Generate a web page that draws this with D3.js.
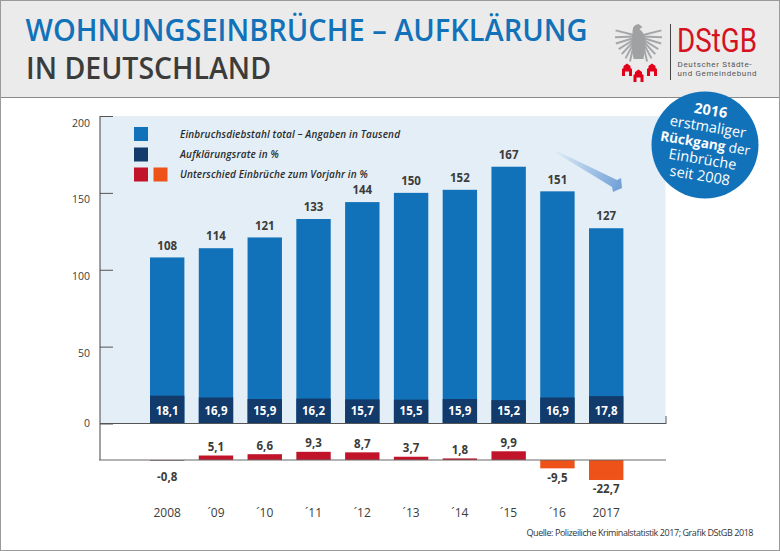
<!DOCTYPE html>
<html><head><meta charset="utf-8">
<script src="https://cdn.jsdelivr.net/npm/d3@7"></script>
<style>html,body{margin:0;padding:0;background:#fff}svg{display:block}text{font-family:"Open Sans",sans-serif}</style>
</head><body><svg id="c" width="780" height="551"></svg>
<script>
const years=["2008","´09","´10","´11","´12","´13","´14","´15","´16","2017"];
const totals=[108,114,121,133,144,150,152,167,151,127];
const rates=[18.1,16.9,15.9,16.2,15.7,15.5,15.9,15.2,16.9,17.8];
const diffs=[-0.8,5.1,6.6,9.3,8.7,3.7,1.8,9.9,-9.5,-22.7];
const yTicks=[0,50,100,150,200];
const legendLabels=["Einbruchsdiebstahl total – Angaben in Tausend","Aufklärungsrate in %","Unterschied Einbrüche zum Vorjahr in %"];
const legendWidths=[220,98.7,187.7];
const fmt=v=>String(v).replace(".",",");
const BLUE="#1272b9",NAVY="#123a6b",RED="#c1142a",ORANGE="#ee5218",TXT="#3c3c3b";
const svg=d3.select("#c");
const defs=svg.append("defs");
const g=defs.append("linearGradient").attr("id","ar").attr("gradientUnits","userSpaceOnUse").attr("x1",553).attr("y1",151).attr("x2",622).attr("y2",188);
g.append("stop").attr("offset",0).attr("stop-color","#e3eef7");g.append("stop").attr("offset",1).attr("stop-color","#6f9fd6");

// header
svg.append("rect").attr("x",0).attr("y",0).attr("width",780).attr("height",97.5).attr("fill","#ebebeb");
svg.append("line").attr("x1",0).attr("x2",780).attr("y1",97.5).attr("y2",97.5).attr("stroke","#8a8a8a");
svg.append("text").attr("x",25.5).attr("y",41).attr("font-size",30).attr("font-weight",600).attr("fill",BLUE).attr("textLength",562).attr("lengthAdjust","spacingAndGlyphs").text("WOHNUNGSEINBRÜCHE – AUFKLÄRUNG");
svg.append("text").attr("x",26).attr("y",79).attr("font-size",30).attr("font-weight",600).attr("fill",TXT).attr("textLength",245).attr("lengthAdjust","spacingAndGlyphs").text("IN DEUTSCHLAND");

// logo
const eagle=svg.append("g").attr("transform","translate(638.5,36)").attr("fill","none").attr("stroke","#a5a6a8");
[-1,1].forEach(s=>{
  [[-14,19],[2,19],[17,19],[32,18],[47,18],[62,18],[77,18]].forEach(([a,l],i)=>{
    const t=a*Math.PI/180;
    const x0=s*4.5,y0=-1+i*1.5;
    eagle.append("line").attr("x1",x0).attr("y1",y0).attr("x2",x0+s*l*Math.cos(t)).attr("y2",y0+l*Math.sin(t)).attr("stroke-width",2);
  });
});
eagle.append("path").attr("d","M-6,-3 Q-6,-10 -3,-11 L0,-12 L4,-9 L1,-7 Q7,-2 7,6 L5,23 L-5,23 L-7,6 Z").attr("fill","#a0a1a3").attr("stroke","none");
[[627,70],[638.5,76],[652,70]].forEach(([x,y])=>{
  svg.append("path").attr("transform",`translate(${x},${y})`).attr("fill","#e2001a").attr("d","M-5,6 L-5,-1 L-3.5,-2 L-3.5,-4 L0,-6.5 L3.5,-4 L3.5,-2 L5,-1 L5,6 L2,6 L2,1.5 L-2,1.5 L-2,6 Z");
});
svg.append("line").attr("x1",670.5).attr("x2",670.5).attr("y1",24).attr("y2",80).attr("stroke","#444");
svg.append("text").attr("x",677).attr("y",52).attr("font-size",33).attr("fill","#d5121e").attr("textLength",80).attr("lengthAdjust","spacingAndGlyphs").style("font-family","Roboto").text("DStGB");
svg.append("text").attr("x",677.5).attr("y",66.5).attr("font-size",8).attr("fill","#555").attr("textLength",74).style("font-family","Roboto").text("Deutscher Städte-");
svg.append("text").attr("x",677.5).attr("y",76).attr("font-size",8).attr("fill","#555").attr("textLength",79).style("font-family","Roboto").text("und Gemeindebund");

// scales
const x=d3.scaleBand().domain(years).range([150,623.4]).paddingInner(0.295).paddingOuter(0);
const bw=x.bandwidth();
const y=d3.scaleLinear().domain([0,200]).range([423.5,116]);
const d0=460, yd=d3.scaleLinear().domain([0,10]).range([d0,d0-8.8]);

// panel
svg.append("rect").attr("x",100).attr("y",116).attr("width",565.5).attr("height",307.5).attr("fill","#e3eef7");

// y axis
const ax=svg.append("g").attr("transform","translate(100,0)").call(d3.axisLeft(y).tickValues(yTicks).tickSize(-13).tickPadding(10));
ax.select(".domain").remove();
ax.selectAll(".tick line").attr("stroke","#555");
ax.selectAll(".tick text").attr("font-size",10.5).attr("font-family",null).style("font-family",'"Open Sans",sans-serif').attr("fill",TXT).attr("dy",d=>d===0?"3":"10");

// main bars
svg.append("g").selectAll("rect").data(years).join("rect").attr("x",d=>x(d)).attr("width",bw).attr("y",(d,i)=>y(totals[i])).attr("height",(d,i)=>y(0)-y(totals[i])).attr("fill",BLUE);
svg.append("g").selectAll("rect").data(years).join("rect").attr("x",d=>x(d)).attr("width",bw).attr("y",(d,i)=>y(rates[i])).attr("height",(d,i)=>y(0)-y(rates[i])).attr("fill",NAVY);
svg.append("g").selectAll("text").data(years).join("text").attr("x",d=>x(d)+bw/2).attr("y",(d,i)=>y(totals[i])-7.8).attr("text-anchor","middle").attr("font-size",11.5).attr("font-weight",700).attr("fill",TXT).text((d,i)=>totals[i]);
svg.append("g").selectAll("text").data(years).join("text").attr("x",d=>x(d)+bw/2).attr("y",y(0)-8.5).attr("text-anchor","middle").attr("font-size",11.5).attr("font-weight",700).attr("fill","#fff").text((d,i)=>fmt(rates[i]));

// diff bars
svg.append("g").selectAll("rect").data(years).join("rect").attr("x",d=>x(d)).attr("width",bw).attr("y",(d,i)=>Math.min(yd(diffs[i]),d0)).attr("height",(d,i)=>Math.abs(yd(diffs[i])-d0)).attr("fill",(d,i)=>diffs[i]<-1?ORANGE:(diffs[i]<0?"#7a5a50":RED));
svg.append("g").selectAll("text").data(years).join("text").attr("x",d=>x(d)+bw/2).attr("y",(d,i)=>diffs[i]>=0?yd(diffs[i])-4.5:yd(diffs[i])+(diffs[i]<-1?13.5:20)).attr("text-anchor","middle").attr("font-size",11.5).attr("font-weight",700).attr("fill",TXT).text((d,i)=>fmt(diffs[i]));

// axis lines
svg.append("line").attr("x1",100).attr("x2",100).attr("y1",116).attr("y2",460).attr("stroke","#444");
svg.append("line").attr("x1",100).attr("x2",666).attr("y1",423.5).attr("y2",423.5).attr("stroke","#555");
svg.append("line").attr("x1",666).attr("x2",666).attr("y1",416).attr("y2",424).attr("stroke","#555");
svg.append("line").attr("x1",99).attr("x2",666).attr("y1",460).attr("y2",460).attr("stroke","#666");

// years
svg.append("g").selectAll("text").data(years).join("text").attr("x",d=>x(d)+bw/2).attr("y",517).attr("text-anchor","middle").attr("font-size",12).attr("fill",TXT).text(d=>d);

// legend
const ly=[134,154.5,174.5];
[[0,BLUE],[1,NAVY],[2,RED]].forEach(([i,c])=>svg.append("rect").attr("x",134).attr("y",ly[i]-7).attr("width",14).attr("height",14).attr("fill",c));
svg.append("rect").attr("x",153.5).attr("y",ly[2]-7).attr("width",14).attr("height",14).attr("fill",ORANGE);
svg.append("g").selectAll("text").data(legendLabels).join("text").attr("x",180).attr("y",(d,i)=>ly[i]+3.5).attr("font-size",10).attr("font-style","italic").attr("font-weight",600).attr("fill","#2b2b2b").attr("textLength",(d,i)=>legendWidths[i]).text(d=>d);

// arrow
svg.append("path").attr("d","M553,151 L558,151.5 L617,180 L621,178 L622,188 L613,192 L612,187 Z").attr("fill","url(#ar)");

// badge
svg.append("circle").attr("cx",705).attr("cy",145).attr("r",53.5).attr("fill",BLUE);
const badge=svg.append("g").attr("transform","translate(705,145) rotate(9.5)").attr("fill","#fff").attr("text-anchor","middle").attr("font-size",14.5);
badge.append("text").attr("x",0).attr("y",-30).attr("font-weight",700).text("2016");
badge.append("text").attr("x",0).attr("y",-13.5).text("erstmaliger");
const t=badge.append("text").attr("x",0).attr("y",3).attr("font-size",13.6);t.append("tspan").attr("font-weight",700).text("Rückgang");t.append("tspan").text(" der");
badge.append("text").attr("x",0).attr("y",19.5).text("Einbrüche");
badge.append("text").attr("x",0).attr("y",36).text("seit 2008");

// source
svg.append("text").attr("x",526.5).attr("y",536).attr("font-size",9).attr("fill","#333").attr("textLength",227).text("Quelle: Polizeiliche Kriminalstatistik 2017; Grafik DStGB 2018");

// border
svg.append("rect").attr("x",0.5).attr("y",0.5).attr("width",779).attr("height",550).attr("fill","none").attr("stroke","#9a9a9a");
</script></body></html>
